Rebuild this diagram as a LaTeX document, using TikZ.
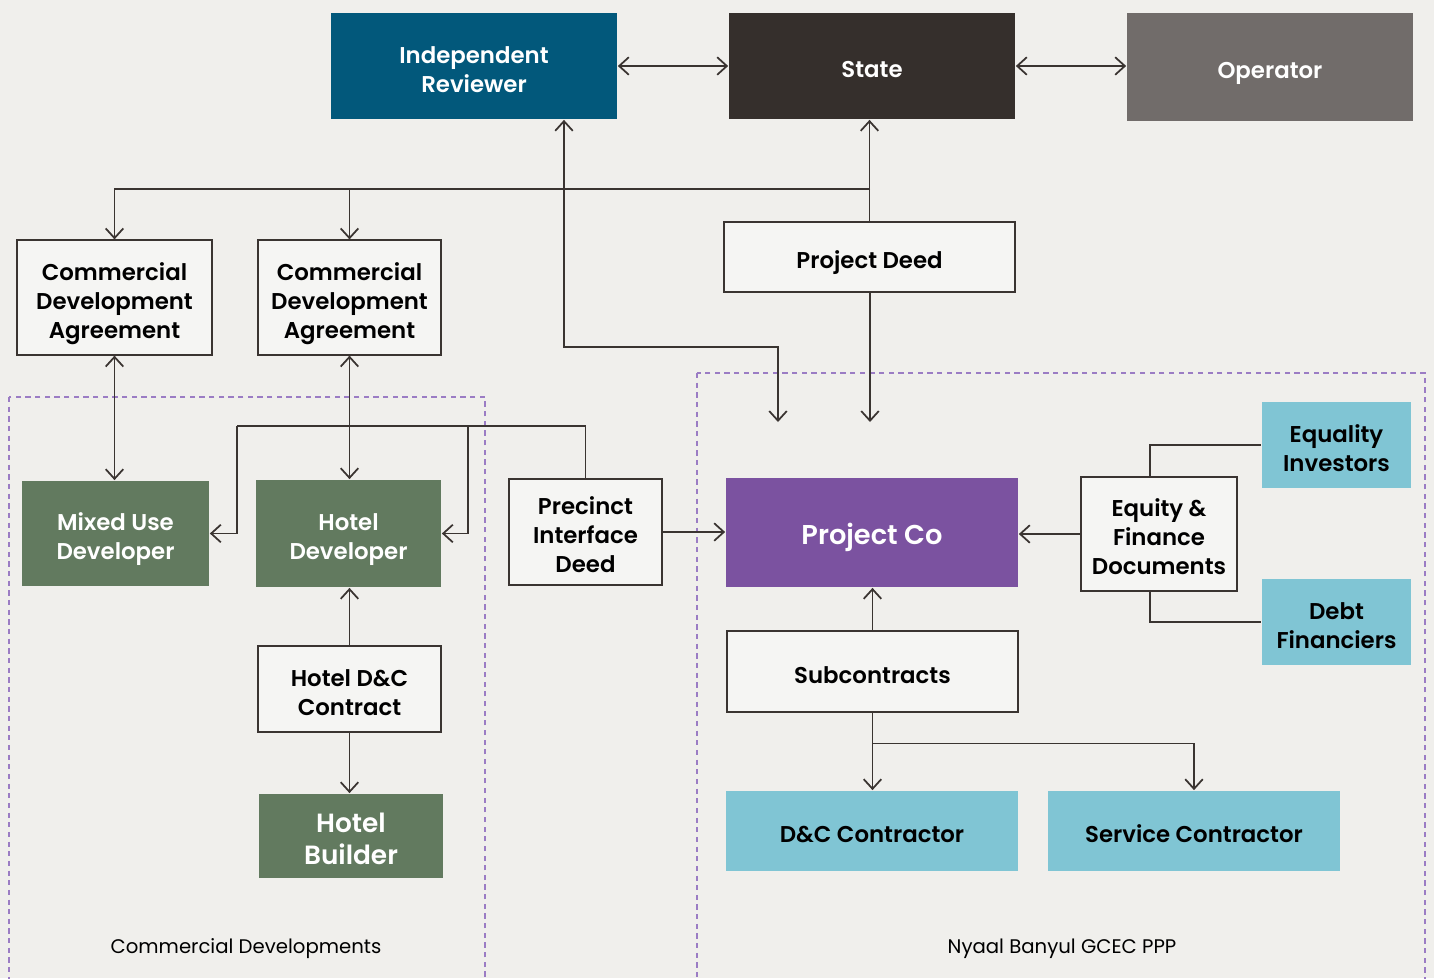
\documentclass[tikz,border=0pt]{standalone}
\usepackage{fontspec}
\setmainfont{Poppins}[BoldFont={Poppins SemiBold}]
\usetikzlibrary{arrows.meta}
\definecolor{bgcol}{HTML}{F0EFEC}
\definecolor{linecol}{HTML}{3A3431}
\definecolor{whitebox}{HTML}{F5F5F3}
\definecolor{reviewcol}{HTML}{02587B}
\definecolor{statecol}{HTML}{352F2C}
\definecolor{operatorcol}{HTML}{716C6A}
\definecolor{devcol}{HTML}{627A5F}
\definecolor{projcol}{HTML}{7B52A0}
\definecolor{partycol}{HTML}{80C5D4}
\definecolor{dashcol}{HTML}{9B7CC4}

\begin{document}
\begin{tikzpicture}[x=0.02cm,y=-0.02cm,>={Straight Barb[length=5.5pt,width=10pt]},line width=1pt,
  lines/.style={execute at begin node={\rule{0pt}{\dimexpr#1\baselineskip-0.3\baselineskip+7pt\relax}}},
  every node/.style={rectangle,align=center,inner sep=0pt,font=\fontsize{13}{16.5}\selectfont\bfseries,
    lines=1,execute at end node={\rule[-0.3\baselineskip]{0pt}{0pt}}},
  deedbox/.style={draw=linecol,line width=0.7pt,fill=whitebox,text=black},
  fillbox/.style={fill=#1,text=white},
  partybox/.style={fill=partycol,text=black},
  conn/.style={draw=linecol},
  area/.style={draw=dashcol,line width=0.8pt,dash pattern=on 3pt off 2.5pt},
  arealabel/.style={font=\fontsize{11.2}{14}\selectfont}]
    \fill[bgcol] (0,0) rectangle (1434,978);
    \useasboundingbox (0,0) rectangle (1434,978);
    % areas
    \draw[area] (9,397) rectangle (485,990);
    \draw[area] (697,373) rectangle (1425,990);
    \node[arealabel] (cdlabel) at (246,942) {Commercial Developments};
    \node[arealabel] (ppplabel) at (1062,942) {Nyaal Banyul GCEC PPP};
    % top row
    \node[fillbox=reviewcol,minimum width=5.72cm,minimum height=2.12cm,lines=2] (ir) at (474,66) {Independent\\Reviewer};
    \node[fillbox=statecol,minimum width=5.72cm,minimum height=2.12cm] (state) at (872,66) {State};
    \node[fillbox=operatorcol,minimum width=5.72cm,minimum height=2.16cm] (operator) at (1270,67) {Operator};
    % agreements
    \node[deedbox,minimum width=3.9cm,minimum height=2.3cm,lines=3] (cda1) at (114.5,297.5) {Commercial\\Development\\Agreement};
    \node[deedbox,minimum width=3.66cm,minimum height=2.3cm,lines=3] (cda2) at (349.5,297.5) {Commercial\\Development\\Agreement};
    \node[deedbox,minimum width=5.82cm,minimum height=1.4cm] (pdeed) at (869.5,257) {Project Deed};
    % commercial developments
    \node[fillbox=devcol,minimum width=3.74cm,minimum height=2.1cm,lines=2] (mud) at (115.5,533.5) {Mixed Use\\Developer};
    \node[fillbox=devcol,minimum width=3.7cm,minimum height=2.14cm,lines=2] (hd) at (348.5,533.5) {Hotel\\Developer};
    \node[deedbox,minimum width=3.66cm,minimum height=1.72cm,lines=2] (hdc) at (349.5,689) {Hotel D\&C\\Contract};
    \node[fillbox=devcol,minimum width=3.68cm,minimum height=1.68cm,font=\fontsize{15}{18.5}\selectfont\bfseries,lines=2] (hb) at (351,836) {Hotel\\Builder};
    \node[deedbox,minimum width=3.06cm,minimum height=2.12cm,lines=3] (pid) at (585.5,532) {Precinct\\Interface\\Deed};
    % project
    \node[fillbox=projcol,minimum width=5.84cm,minimum height=2.18cm,font=\fontsize{15.5}{18}\selectfont\bfseries] (pc) at (872,532.5) {Project Co};
    \node[deedbox,minimum width=3.12cm,minimum height=2.28cm,lines=3] (efd) at (1159,534) {Equity \&\\Finance\\Documents};
    \node[partybox,minimum width=2.98cm,minimum height=1.72cm,lines=2] (ei) at (1336.5,445) {Equality\\Investors};
    \node[partybox,minimum width=2.98cm,minimum height=1.72cm,lines=2] (df) at (1336.5,622) {Debt\\Financiers};
    \node[deedbox,minimum width=5.82cm,minimum height=1.62cm] (sub) at (872.5,671.5) {Subcontracts};
    \node[partybox,minimum width=5.84cm,minimum height=1.6cm] (dcc) at (872,831) {D\&C Contractor};
    \node[partybox,minimum width=5.84cm,minimum height=1.6cm] (sc) at (1194,831) {Service Contractor};
    % free ends
    \coordinate (jtop) at (870,189);
    \coordinate (irend) at (778,422);
    \coordinate (pdend) at (870,422);
    \coordinate (pidbar) at (237,426);
    \coordinate (pidfork) at (468,426);
    % connectors
    \draw[conn,<->] (ir.east) -- (state.west);
    \draw[conn,<->] (state.east) -- (state.east -| operator.west);
    \draw[conn,->] (pdeed.north) -- (pdeed.north |- state.south);
    \draw[conn,->] (jtop) -| (cda1.north);
    \draw[conn,->] (cda2.north |- jtop) -- (cda2.north);
    \draw[conn,<->] ([xshift=1.8cm]ir.south) -- ++(0,227) -| (irend);
    \draw[conn,->] (pdeed.south -| pdend) -- (pdend);
    \draw[conn,<->] (cda1.south) -- (cda1.south |- mud.north);
    \draw[conn,<->] (cda2.south) -- (cda2.south |- hd.north);
    \draw[conn] (pid.north) |- (pidbar);
    \draw[conn,->] (pidbar) |- (mud.east);
    \draw[conn,->] (pidfork) |- (hd.east);
    \draw[conn,->] (hdc.north) -- (hdc.north |- hd.south);
    \draw[conn,->] (hdc.south) -- (hdc.south |- hb.north);
    \draw[conn,->] (pid.east) -- (pid.east -| pc.west);
    \draw[conn,->] (efd.west) -- (efd.west -| pc.east);
    \draw[conn] ([xshift=-0.18cm]efd.north) |- (ei.west);
    \draw[conn] ([xshift=-0.18cm]efd.south) |- (df.west);
    \draw[conn,->] (sub.north) -- (sub.north |- pc.south);
    \draw[conn,->] (sub.south) -- (sub.south |- dcc.north);
    \draw[conn,->] ([yshift=-0.62cm]sub.south) -| (sc.north);
\end{tikzpicture}
\end{document}
